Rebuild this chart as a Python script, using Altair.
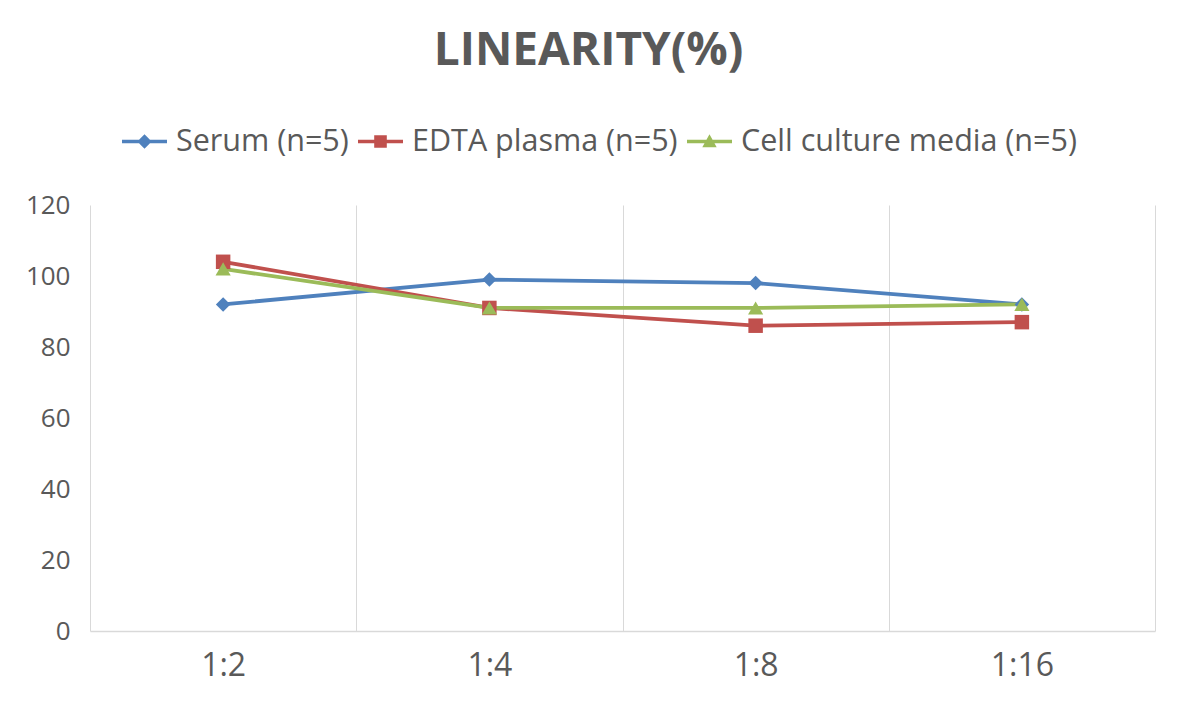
import json
import altair as alt
import pandas as pd

categories = ["1:2", "1:4", "1:8", "1:16"]
series_names = ["Serum (n=5)", "EDTA plasma (n=5)", "Cell culture media (n=5)"]
serum = [92, 99, 98, 92]
edta = [104, 91, 86, 87]
cell = [102, 91, 91, 92]
y_ticks = [0, 20, 40, 60, 80, 100, 120]

colors = ["#4F81BD", "#C0504D", "#9BBB59"]
shapes = ["diamond", "square", "triangle-up"]
sizes = [210, 210, 230]

legend_paths = [
    "M-1,-0.075H1V0.075H-1Z M0,-0.32L0.32,0L0,0.32L-0.32,0Z",
    "M-1,-0.075H1V0.075H-1Z M-0.28,-0.28H0.28V0.28H-0.28Z",
    "M-1,-0.075H1V0.075H-1Z M0,-0.32L0.32,0.26H-0.32Z",
]

rows = []
for name, vals in zip(series_names, [serum, edta, cell]):
    for i, (c, v) in enumerate(zip(categories, vals)):
        rows.append({"series": name, "cat": c, "idx": i, "value": v})
df = pd.DataFrame(rows)

TXT = "#595959"
GRID = "#D9D9D9"
FONT = "Open Sans"

n = len(categories)
x_vals = []
for i in range(n):
    x_vals.append(i - 0.5)
    x_vals.append(i)
x_vals.append(n - 0.5)

label_expr = "datum.value % 1 == 0 ? " + json.dumps(categories) + "[datum.value] : ''"

x_enc = alt.X(
    "idx:Q",
    scale=alt.Scale(domain=[-0.5, n - 0.5], nice=False, zero=False),
    axis=alt.Axis(
        title=None,
        values=x_vals,
        labelExpr=label_expr,
        labelOverlap=False,
        labelFont=FONT,
        labelFontSize=32,
        labelColor=TXT,
        labelPadding=19,
        ticks=False,
        domain=True,
        domainColor=GRID,
        domainWidth=1.5,
        grid=True,
        gridColor=GRID,
        gridWidth=1,
        gridOpacity={"condition": {"test": "datum.value % 1 != 0", "value": 1}, "value": 0},
    ),
)
y_enc = alt.Y(
    "value:Q",
    scale=alt.Scale(domain=[0, 120], nice=False),
    axis=alt.Axis(
        title=None,
        values=y_ticks,
        labelFont=FONT,
        labelFontSize=26,
        labelColor=TXT,
        labelPadding=20,
        ticks=False,
        domain=False,
        grid=False,
    ),
)
color_scale = alt.Scale(domain=series_names, range=colors)

leg = alt.Legend(
    title=None,
    orient="none",
    legendX=32,
    legendY=-86,
    direction="horizontal",
    columns=3,
    columnPadding=9,
    symbolSize=2025,
    symbolOpacity=1,
    symbolStrokeWidth=0,
    symbolOffset=0,
    labelOffset=9,
    labelFont=FONT,
    labelFontSize=30.5,
    labelColor=TXT,
    labelLimit=600,
    padding=0,
)

base = alt.Chart(df)

lines = base.mark_line(strokeWidth=3.8).encode(
    x=x_enc, y=y_enc,
    color=alt.Color("series:N", scale=color_scale, legend=leg),
)

marker_layers = []
for name, col, shp, sz in zip(series_names, colors, shapes, sizes):
    marker_layers.append(
        base.transform_filter(alt.datum.series == name)
        .mark_point(shape=shp, filled=True, size=sz, opacity=1, color=col)
        .encode(x=x_enc, y=y_enc)
    )

legend_layer = base.mark_point(filled=True, opacity=0).encode(
    x=x_enc, y=y_enc,
    color=alt.Color("series:N", scale=color_scale, legend=leg),
    shape=alt.Shape("series:N", scale=alt.Scale(domain=series_names, range=legend_paths), legend=leg),
)

chart = alt.layer(lines, *marker_layers, legend_layer).properties(
    width=1065,
    height=426,
    padding={"left": 82, "top": 197, "right": 16, "bottom": 66},
    autosize=alt.AutoSizeParams(type="none"),
    background="white",
    title=alt.TitleParams(
        "LINEARITY(%)",
        font=FONT,
        fontSize=46,
        fontWeight="bold",
        color=TXT,
        anchor="middle",
        dx=-34,
        offset=44,
    ),
).configure_view(strokeWidth=0, stroke="transparent")

chart.save("out.html", embed_options={"renderer": "svg", "actions": False})
